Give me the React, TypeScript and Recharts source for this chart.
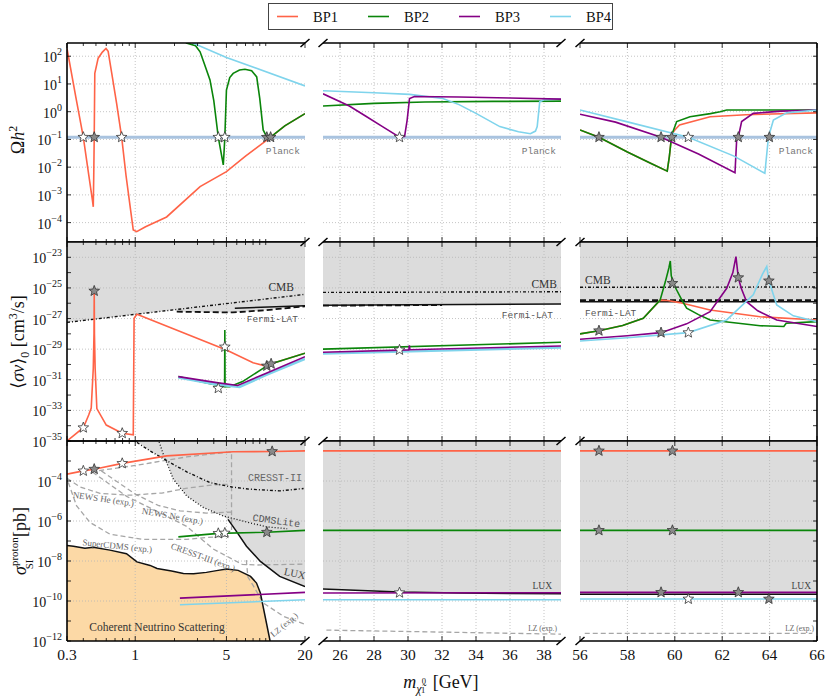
import React from 'react';
import { ComposedChart, Line, Area, Scatter, XAxis, YAxis, ReferenceLine } from 'recharts';

type P = [number, number];
type S = [number, number, number]; // mass, value, filled(1)/open(0)

const SERIF = "'Liberation Serif', 'DejaVu Serif', serif";
const MONO = "'Liberation Mono', 'DejaVu Sans Mono', monospace";

// ---------- legend / series ----------
const seriesNames = ['BP1', 'BP2', 'BP3', 'BP4'];
const seriesColors = ['#ff6347', '#0a850a', '#850085', '#7fd4ec'];
const [BP1C, BP2C, BP3C, BP4C] = seriesColors;

// ---------- ticks ----------
const c1Ticks = [0.3, 0.4, 0.5, 0.6, 0.7, 0.8, 0.9, 1, 2, 3, 4, 5, 6, 7, 8, 9, 10, 20];
const c1Major = [0.3, 1, 5, 20];
const c1Grid = [1, 5];
const c2Ticks = [26, 28, 30, 32, 34, 36, 38];
const c3Ticks = [56, 58, 60, 62, 64, 66];
const c3Grid = [58, 60, 62, 64];
const r1Exps = [-4, -3, -2, -1, 0, 1, 2];
const r2Exps = [-35, -34, -33, -32, -31, -30, -29, -28, -27, -26, -25, -24, -23];
const r2Labels = [-35, -33, -31, -29, -27, -25, -23];
const r2Grid = [-33, -31, -29, -27, -25, -23];
const r3Exps = [-12, -11, -10, -9, -8, -7, -6, -5, -4, -3];
const r3Labels = [-12, -10, -8, -6, -4];
const r3Grid = [-10, -8, -6, -4];

// ---------- Row 1: relic density ----------
const planckC1: P[] = [[0.3, 0.12], [20, 0.12]];
const planckC2: P[] = [[25, 0.12], [39, 0.12]];
const planckC3: P[] = [[56, 0.12], [66, 0.12]];
const relicC1_BP1: P[] = [[0.3, 190], [0.35, 3.5], [0.4, 0.12], [0.44, 5.4e-3], [0.47, 6.3e-4], [0.477, 3.7e-4], [0.481, 5e-3], [0.485, 0.12], [0.49, 24], [0.52, 85], [0.56, 141], [0.597, 190], [0.62, 150], [0.66, 25], [0.72, 2], [0.787, 0.12], [0.85, 5e-3], [0.92, 3e-4], [0.966, 5.4e-5], [1.026, 4.7e-5], [1.2, 7.1e-5], [1.74, 1.6e-4], [3.14, 2.0e-3], [5, 6.9e-3], [7, 0.025], [10.2, 0.095], [14, 0.31], [20, 0.85]];
const relicC1_BP2: P[] = [[2.2, 700], [2.47, 300], [2.9, 240], [3.14, 145], [3.4, 50], [3.74, 14], [4.0, 2.5], [4.33, 0.12], [4.6, 0.025], [4.73, 0.012], [4.8, 0.04], [4.86, 0.12], [4.95, 1.5], [5.0, 6], [5.3, 17], [5.63, 24], [6.3, 32], [6.93, 34], [7.8, 30], [8.53, 18], [9.0, 3], [9.56, 0.22], [10.2, 0.12], [10.6, 0.11], [10.9, 0.12], [14, 0.31], [20, 0.85]];
const relicC1_BP4: P[] = [[2.4, 400], [5, 90], [20, 8.5]];
const relicC1_Stars: S[] = [[0.4, 0.12, 0], [0.485, 0.12, 1], [0.787, 0.12, 0], [4.33, 0.12, 0], [4.86, 0.12, 0], [10.2, 0.12, 1], [10.9, 0.12, 1]];

const relicC2_BP2: P[] = [[25, 1.6], [28, 2.0], [31, 2.24], [35, 2.35], [39, 2.4]];
const relicC2_BP3: P[] = [[25, 4.4], [26.55, 1.6], [27.5, 0.7], [28.5, 0.29], [29.5, 0.12], [29.8, 0.13], [29.95, 0.5], [30.09, 3.0], [30.38, 3.55], [33, 3.4], [36, 3.1], [39, 2.85]];
const relicC2_BP4: P[] = [[25, 5.7], [28, 4.8], [30.1, 4.2], [32.05, 3.0], [33, 1.8], [34, 0.87], [35.4, 0.29], [36.5, 0.19], [37.2, 0.16], [37.5, 0.2], [37.6, 0.29], [37.75, 2.3], [38, 2.7], [39, 2.85]];
const relicC2_Stars: S[] = [[29.5, 0.12, 0]];

const relicC3_BP1: P[] = [[56, 0.22], [56.8, 0.12], [58, 0.035], [59, 0.0135], [59.68, 7.2e-3], [59.77, 0.024], [59.87, 0.145], [60.0, 0.22], [60.2, 0.33], [61.49, 0.66], [63, 0.78], [66, 0.91]];
const relicC3_BP2: P[] = [[56, 0.22], [56.8, 0.12], [58, 0.035], [59, 0.0135], [59.68, 7.2e-3], [59.77, 0.024], [59.87, 0.145], [60.08, 0.44], [60.64, 0.66], [61.5, 0.85], [61.91, 1.0], [62.19, 1.15], [66, 1.15]];
const relicC3_BP3: P[] = [[56, 0.81], [57.5, 0.42], [59.42, 0.12], [61, 0.03], [62.54, 6.3e-3], [62.61, 0.095], [62.68, 0.12], [62.82, 0.44], [63.31, 0.87], [64.5, 1.05], [66, 1.15]];
const relicC3_BP4: P[] = [[56, 1.15], [58, 0.43], [60.57, 0.12], [62.5, 0.025], [63.8, 6.0e-3], [63.95, 0.12], [64.16, 0.5], [64.72, 0.91], [66, 1.15]];
const relicC3_Stars: S[] = [[56.8, 0.12, 1], [59.42, 0.12, 1], [59.87, 0.12, 1], [60.57, 0.12, 0], [62.68, 0.12, 1], [63.99, 0.12, 1]];

// ---------- Row 2: <sigma v>_0 ----------
const svC1_CMB: P[] = [[0.3, 5.6e-28], [20, 3.8e-26]];
const svC1_FermiDashed: P[] = [[2.08, 2.8e-27], [5.6, 2.5e-27], [10, 3.5e-27], [20, 6.3e-27]];
const svC1_FermiSolid: P[] = [[5.8, 4.7e-27], [20, 6.9e-27]];
const svC1_Excl: P[] = [[0.3, 5.6e-28], [2.07, 3.9e-27], [2.08, 2.8e-27], [5.6, 2.5e-27], [10, 3.5e-27], [20, 6.3e-27]];
const svC1_BP1: P[] = [[0.3, 1e-35], [0.4, 7.4e-35], [0.44, 5e-34], [0.46, 1.4e-33], [0.477, 5.6e-31], [0.483, 1e-28], [0.485, 6.3e-26], [0.487, 1e-28], [0.493, 5.6e-31], [0.508, 1.3e-33], [0.6, 1.1e-34], [0.795, 3.2e-35], [0.966, 2.5e-35], [0.98, 1.05e-27], [1.03, 1.9e-27], [2, 2e-28], [5, 8.9e-30], [8, 1.3e-30], [9.56, 8.7e-31], [10.2, 8e-31], [11.2, 1.17e-30], [20, 5.4e-30]];
const svC1_BP2: P[] = [[2.14, 1.6e-31], [3, 8.3e-32], [4.33, 4.2e-32], [4.84, 3.5e-32], [4.86, 1.8e-28], [4.88, 3.5e-32], [5.3, 3.5e-32], [6.64, 7.6e-32], [10.2, 8e-31], [11.2, 1.17e-30], [20, 5.4e-30]];
const svC1_BP3: P[] = [[2.14, 1.6e-31], [4.2, 6.5e-32], [6.1, 4.2e-32], [10, 2.6e-31], [20, 3.2e-30]];
const svC1_BP4: P[] = [[2.14, 1.4e-31], [4.2, 5e-32], [6.3, 3.4e-32], [10, 2e-31], [20, 2.3e-30]];
const svC1_Stars: S[] = [[0.4, 7.4e-35, 0], [0.485, 6.3e-26, 1], [0.795, 3.2e-35, 0], [4.33, 2.8e-32, 0], [4.86, 1.4e-29, 0], [10.2, 8e-31, 1], [11.0, 1.1e-30, 1]];

const svC2_CMB: P[] = [[25, 5.1e-26], [39, 5.6e-26]];
const svC2_FermiDashed: P[] = [[25, 6.9e-27], [32, 7.6e-27]];
const svC2_FermiSolid: P[] = [[25, 7.4e-27], [39, 8.9e-27]];
const svC2_Excl: P[] = [[25, 7.2e-27], [39, 8.9e-27]];
const svC2_BP2: P[] = [[25, 1.0e-29], [39, 2.8e-29]];
const svC2_BP3: P[] = [[25, 6.3e-30], [30.05, 9e-30], [30.08, 1.8e-29], [30.11, 9.2e-30], [39, 1.6e-29]];
const svC2_BP4: P[] = [[25, 5e-30], [39, 1.26e-29]];
const svC2_Stars: S[] = [[29.5, 8.9e-30, 0]];

const svC3_CMB: P[] = [[56, 1.1e-25], [66, 1.15e-25]];
const svC3_FermiDashed: P[] = [[56, 1.6e-26], [66, 1.6e-26]];
const svC3_FermiSolid: P[] = [[56, 1.26e-26], [66, 1.26e-26]];
const svC3_Excl: P[] = [[56, 1.26e-26], [66, 1.26e-26]];
const svC3_BP1: P[] = [[56, 1.0e-28], [56.8, 1.6e-28], [57.8, 3.5e-28], [58.67, 1.05e-27], [59.38, 1.6e-26], [59.7, 1.5e-26], [60.2, 1.1e-26], [61.49, 3.6e-27], [63.6, 1.3e-27], [66, 8.1e-28]];
const svC3_BP2: P[] = [[56, 1.0e-28], [56.8, 1.6e-28], [57.8, 3.5e-28], [58.67, 1.05e-27], [59.38, 1.6e-26], [59.6, 2.5e-25], [59.75, 2.0e-24], [59.81, 5.8e-24], [59.85, 6.3e-25], [59.95, 1.8e-25], [60.1, 6.3e-26], [60.3, 1.6e-26], [60.5, 4.7e-27], [61, 1.8e-27], [61.49, 8.1e-28], [63.6, 3.4e-28], [64.6, 3.0e-28], [64.7, 4.9e-28], [66, 6.3e-28]];
const svC3_BP3: P[] = [[56, 4.4e-29], [58, 7.5e-29], [59.42, 1.2e-28], [60.5, 4.5e-28], [61.49, 2.8e-27], [62.19, 9.5e-26], [62.45, 1e-24], [62.58, 1.1e-23], [62.68, 4.7e-25], [62.8, 1e-25], [63.03, 1.26e-26], [63.5, 3.2e-27], [64.3, 8.1e-28], [66, 3.0e-28]];
const svC3_BP4: P[] = [[56, 3.4e-29], [58, 5.6e-29], [60.57, 1.2e-28], [62.19, 8.1e-28], [63.31, 3.5e-26], [63.7, 8e-25], [63.88, 2.5e-24], [63.97, 2.9e-25], [64.3, 7.8e-27], [65, 1.5e-27], [66, 6.3e-28]];
const svC3_Stars: S[] = [[56.8, 1.6e-28, 1], [59.42, 1.2e-28, 1], [59.9, 2.0e-25, 1], [60.57, 1.2e-28, 0], [62.68, 4.7e-25, 1], [63.97, 2.9e-25, 1]];

// ---------- Row 3: sigma_SI proton ----------
const siC1_Excl: P[] = [[1.03, 1e-2], [1.3, 3.2e-3], [1.7, 1.15e-3], [1.96, 1.23e-4], [2.48, 1.8e-5], [3.33, 4.7e-6], [4.71, 1.8e-6], [5.14, 1.2e-6], [5.82, 3.8e-7], [7.12, 5.5e-8], [9.1, 9.5e-9], [12.8, 1.7e-9], [20, 5.2e-10]];
const siC1_CRESST2: P[] = [[1.03, 8.5e-3], [1.3, 3.2e-3], [1.84, 8.5e-4], [2.5, 2.8e-4], [3.74, 8.3e-5], [5.5, 5e-5], [7.55, 3.9e-5], [12.8, 3.2e-5], [19.5, 4.2e-5]];
const siC1_CDMSLite: P[] = [[1.5, 1.26e-2], [1.64, 2.2e-3], [1.96, 1.23e-4], [2.48, 1.8e-5], [3.33, 4.7e-6], [4.71, 1.8e-6], [7.55, 8.1e-7], [10.2, 5.1e-7], [14.6, 4.1e-7]];
const siC1_LUX: P[] = [[5.14, 1.2e-6], [5.82, 3.8e-7], [7.12, 5.5e-8], [9.1, 9.5e-9], [12.8, 1.7e-9], [20, 5.2e-10]];
const siC1_Floor: P[] = [[0.3, 5.9e-8], [0.336, 5.5e-8], [0.412, 4.3e-8], [0.477, 4.8e-8], [0.64, 3.5e-8], [0.857, 2.3e-8], [1.03, 9e-9], [1.3, 6e-9], [1.47, 4.2e-9], [1.9, 3.2e-9], [2.34, 2.4e-9], [2.8, 2.3e-9], [3.51, 2.7e-9], [4.2, 3.3e-9], [5, 4.0e-9], [6.15, 3.4e-9], [7.65, 1.7e-9], [8.5, 7.9e-10], [9.1, 2.5e-10], [10.8, 1e-12]];
const siC1_ProjTop: P[] = [[0.46, 2.9e-4], [1, 6e-4], [2.48, 1.6e-3], [3.5, 2.1e-3], [5.47, 2.8e-3], [5.47, 3.5e-7]];
const siC1_NEWSHe: P[] = [[0.3, 1.35e-4], [0.377, 5.1e-5], [0.537, 2.4e-5], [0.91, 1.95e-5], [1.6, 2.5e-5], [2.5, 4.4e-5], [3.9, 6.3e-5], [5.47, 7e-5]];
const siC1_NEWSNe: P[] = [[0.55, 3.2e-4], [0.75, 8e-5], [1.0, 2.2e-5], [1.5, 6e-6], [2.2, 3.2e-6], [3.5, 2.5e-6], [5.47, 2.8e-6]];
const siC1_SuperCDMS: P[] = [[0.307, 8.5e-5], [0.355, 5.8e-6], [0.45, 8.5e-7], [0.64, 2.2e-7], [1.15, 1.2e-7], [2.48, 1.2e-7], [3.5, 1.5e-7], [5.47, 1.8e-7]];
const siC1_CRESST3: P[] = [[0.47, 2.8e-4], [0.86, 1.7e-5], [1.56, 2.5e-6], [2.48, 5.4e-7], [3.95, 4e-8], [6.6, 6.8e-9], [8.5, 6.3e-9], [20, 7e-9]];
const siC1_LZ: P[] = [[7.1, 1.1e-8], [7.3, 1.6e-9], [8.0, 6e-10], [9.56, 8.1e-11], [13.7, 1.7e-11], [20, 6.8e-12]];
const siC1_BP1: P[] = [[0.3, 2.2e-4], [0.4, 3.2e-4], [0.485, 3.9e-4], [0.795, 7.6e-4], [1.74, 1.8e-3], [5.63, 2.9e-3], [11.4, 3.0e-3], [20, 3.2e-3]];
const siC1_BP2: P[] = [[2.14, 1.6e-7], [4.33, 2.4e-7], [10.2, 2.75e-7], [20, 3.4e-7]];
const siC1_BP3: P[] = [[2.2, 1.4e-10], [20, 2.7e-10]];
const siC1_BP4: P[] = [[2.2, 6.5e-11], [20, 1.15e-10]];
const siC1_Stars: S[] = [[0.4, 3.2e-4, 0], [0.485, 3.9e-4, 1], [0.795, 7.6e-4, 0], [11.2, 3.0e-3, 1], [4.33, 2.4e-7, 0], [4.86, 2.5e-7, 0], [10.2, 2.75e-7, 1]];

const siC2_LUX: P[] = [[25, 4e-10], [29.5, 2.8e-10], [33, 2.5e-10], [39, 2.3e-10]];
const siC2_LZ: P[] = [[25.2, 3.5e-12], [39, 2.2e-12]];
const siC2_BP1: P[] = [[25, 3.2e-3], [39, 3.2e-3]];
const siC2_BP2: P[] = [[25, 3.4e-7], [39, 3.4e-7]];
const siC2_BP3: P[] = [[25, 2.5e-10], [39, 2.6e-10]];
const siC2_BP4: P[] = [[25, 1.15e-10], [39, 1.15e-10]];
const siC2_Stars: S[] = [[29.5, 2.6e-10, 0]];

const siC3_LUX: P[] = [[56, 2.2e-10], [66, 2.2e-10]];
const siC3_LZ: P[] = [[56.2, 2.4e-12], [65.8, 2.4e-12]];
const siC3_BP1: P[] = [[56, 3.2e-3], [66, 3.2e-3]];
const siC3_BP2: P[] = [[56, 3.4e-7], [66, 3.4e-7]];
const siC3_BP3: P[] = [[56, 2.7e-10], [66, 2.7e-10]];
const siC3_BP4: P[] = [[56, 1.26e-10], [66, 1.26e-10]];
const siC3_Stars: S[] = [[56.8, 3.2e-3, 1], [59.9, 3.2e-3, 1], [56.8, 3.4e-7, 1], [59.9, 3.4e-7, 1], [59.42, 2.7e-10, 1], [62.68, 2.7e-10, 1], [60.57, 1.26e-10, 0], [63.97, 1.26e-10, 1]];

// ---------- styles ----------
const GRAY_FILL = '#dcdcdc';
const FLOOR_FILL = '#fcd9a6';
const PROJ = '#a6a6a6';
type LineDef = { data: P[]; color: string; width?: number; dash?: string };
type FillDef = { data: P[]; color: string; base: 'dataMin' | 'dataMax' };
type PanelDef = { row: number; col: number; fills: FillDef[]; lines: LineDef[]; stars: S[] };

const planck = (d: P[]): LineDef => ({ data: d, color: '#a9c3df', width: 3 });
const cmb = (d: P[]): LineDef => ({ data: d, color: '#111', width: 1.4, dash: '3 2 1 2' });
const fermiD = (d: P[]): LineDef => ({ data: d, color: '#111', width: 1.8, dash: '6 3' });
const solid = (d: P[]): LineDef => ({ data: d, color: '#111', width: 1.5 });
const proj = (d: P[]): LineDef => ({ data: d, color: PROJ, width: 1.3, dash: '5 3' });
const ser = (d: P[], color: string, width = 1.6): LineDef => ({ data: d, color, width });

const PANELS: PanelDef[] = [
  { row: 0, col: 0, fills: [], lines: [planck(planckC1), ser(relicC1_BP1, BP1C), ser(relicC1_BP2, BP2C), ser(relicC1_BP4, BP4C)], stars: relicC1_Stars },
  { row: 0, col: 1, fills: [], lines: [planck(planckC2), ser(relicC2_BP2, BP2C), ser(relicC2_BP4, BP4C), ser(relicC2_BP3, BP3C)], stars: relicC2_Stars },
  { row: 0, col: 2, fills: [], lines: [planck(planckC3), ser(relicC3_BP1, BP1C), ser(relicC3_BP2, BP2C), ser(relicC3_BP3, BP3C), ser(relicC3_BP4, BP4C)], stars: relicC3_Stars },
  { row: 1, col: 0, fills: [{ data: svC1_Excl, color: GRAY_FILL, base: 'dataMax' }], lines: [cmb(svC1_CMB), fermiD(svC1_FermiDashed), solid(svC1_FermiSolid), ser(svC1_BP1, BP1C), ser(svC1_BP2, BP2C), ser(svC1_BP4, BP4C, 2.6), ser(svC1_BP3, BP3C)], stars: svC1_Stars },
  { row: 1, col: 1, fills: [{ data: svC2_Excl, color: GRAY_FILL, base: 'dataMax' }], lines: [cmb(svC2_CMB), fermiD(svC2_FermiDashed), solid(svC2_FermiSolid), ser(svC2_BP2, BP2C), ser(svC2_BP4, BP4C, 2.2), ser(svC2_BP3, BP3C)], stars: svC2_Stars },
  { row: 1, col: 2, fills: [{ data: svC3_Excl, color: GRAY_FILL, base: 'dataMax' }], lines: [cmb(svC3_CMB), fermiD(svC3_FermiDashed), solid(svC3_FermiSolid), ser(svC3_BP1, BP1C), ser(svC3_BP2, BP2C), ser(svC3_BP3, BP3C), ser(svC3_BP4, BP4C)], stars: svC3_Stars },
  {
    row: 2, col: 0,
    fills: [{ data: siC1_Excl, color: GRAY_FILL, base: 'dataMax' }, { data: siC1_Floor, color: FLOOR_FILL, base: 'dataMin' }],
    lines: [proj(siC1_ProjTop), proj(siC1_NEWSHe), proj(siC1_NEWSNe), proj(siC1_SuperCDMS), proj(siC1_CRESST3), proj(siC1_LZ), cmb(siC1_CRESST2), { data: siC1_CDMSLite, color: '#111', width: 1.3, dash: '1 2' }, solid(siC1_LUX), solid(siC1_Floor), ser(siC1_BP1, BP1C), ser(siC1_BP2, BP2C), ser(siC1_BP3, BP3C), ser(siC1_BP4, BP4C)],
    stars: siC1_Stars,
  },
  { row: 2, col: 1, fills: [{ data: siC2_LUX, color: GRAY_FILL, base: 'dataMax' }], lines: [proj(siC2_LZ), solid(siC2_LUX), ser(siC2_BP1, BP1C), ser(siC2_BP2, BP2C), ser(siC2_BP3, BP3C), ser(siC2_BP4, BP4C)], stars: siC2_Stars },
  { row: 2, col: 2, fills: [{ data: siC3_LUX, color: GRAY_FILL, base: 'dataMax' }], lines: [proj(siC3_LZ), solid(siC3_LUX), ser(siC3_BP1, BP1C), ser(siC3_BP2, BP2C), ser(siC3_BP3, BP3C), ser(siC3_BP4, BP4C)], stars: siC3_Stars },
];

const fmtX = (v: number) => String(v);
const COLS = [
  { L: 67, W: 238, domain: [0.3, 20], scale: 'log' as const, ticks: c1Ticks, majors: c1Major, grid: c1Grid },
  { L: 323, W: 238, domain: [25, 39], scale: 'linear' as const, ticks: c2Ticks, majors: c2Ticks, grid: c2Ticks },
  { L: 580, W: 237, domain: [56, 66], scale: 'linear' as const, ticks: c3Ticks, majors: c3Ticks, grid: c3Grid },
];
const ROWS = [
  { T: 43, H: 199, domain: [2e-5, 300], exps: r1Exps, labels: r1Exps, grid: r1Exps },
  { T: 242, H: 199, domain: [1e-35, 1e-22], exps: r2Exps, labels: r2Labels, grid: r2Grid },
  { T: 441, H: 200, domain: [1e-12, 1e-2], exps: r3Exps, labels: r3Labels, grid: r3Grid },
];

const toPts = (d: P[]) => d.map(([x, y]) => ({ x, y }));

const xTick = (majors: number[], showLabel: boolean, top: boolean) => (p: any) => {
  const v = p.payload.value;
  const major = majors.some((m) => Math.abs(m - v) < 1e-9);
  const len = major ? 5 : 3;
  const dir = top ? 1 : -1;
  return (
    <g>
      <line x1={p.x} x2={p.x} y1={p.y} y2={p.y + dir * len} stroke="#000" strokeWidth={0.8} />
      {showLabel && major && (
        <text x={p.x} y={p.y + 19} textAnchor="middle" fontFamily={SERIF} fontSize={15.5} fill="#111">{fmtX(v)}</text>
      )}
    </g>
  );
};

const yTick = (labels: number[], showLabel: boolean, right: boolean) => (p: any) => {
  const v = p.payload.value;
  const e = Math.round(Math.log10(v));
  const dir = right ? -1 : 1;
  return (
    <g>
      <line x1={p.x} x2={p.x + dir * 4} y1={p.y} y2={p.y} stroke="#000" strokeWidth={0.8} />
      {showLabel && labels.includes(e) && (
        <text x={p.x - 5} y={p.y + 6} textAnchor="end" fontFamily={SERIF} fontSize={14} fill="#111">
          10<tspan dy={-7} fontSize={10}>{e < 0 ? '\u2212' + -e : String(e)}</tspan>
        </text>
      )}
    </g>
  );
};

const StarShape = (props: any) => {
  const { cx, cy, payload } = props;
  if (cx == null || cy == null) return <g />;
  const R = 5.6;
  const r = 2.4;
  const pts: string[] = [];
  for (let i = 0; i < 10; i++) {
    const rad = i % 2 === 0 ? R : r;
    const a = -Math.PI / 2 + (i * Math.PI) / 5;
    pts.push(`${cx + rad * Math.cos(a)},${cy + rad * Math.sin(a)}`);
  }
  return <polygon points={pts.join(' ')} fill={payload.f ? '#8a8a8a' : '#ffffff'} stroke="#333" strokeWidth={0.8} />;
};

function Panel({ d }: { d: PanelDef }) {
  const c = COLS[d.col];
  const r = ROWS[d.row];
  const M = 14;
  const wl = d.col === 0 ? 52 : 0;
  const wr = d.col === 2 ? 1 : 0;
  const ht = 1;
  const hb = d.row === 2 ? 30 : 1;
  const cw = c.W + 2 * M + wl + wr;
  const ch = r.H + 2 * M + ht + hb;
  const yTicks = r.exps.map((e) => Math.pow(10, e));
  const axisLine = { stroke: '#000', strokeWidth: 1.6 };
  return (
    <div style={{ position: 'absolute', left: c.L - M - wl, top: r.T - M - ht }}>
      <ComposedChart width={cw} height={ch} margin={{ top: M, right: M, bottom: M, left: M }}>
        <XAxis dataKey="x" type="number" scale={c.scale} domain={c.domain} allowDataOverflow ticks={c.ticks} interval={0}
          tickSize={0} tickMargin={0} tickLine={false} axisLine={axisLine} height={hb} tick={xTick(c.majors, d.row === 2, false)} />
        <XAxis xAxisId="top" orientation="top" dataKey="x" type="number" scale={c.scale} domain={c.domain} allowDataOverflow ticks={c.ticks} interval={0}
          tickSize={0} tickMargin={0} tickLine={false} axisLine={axisLine} height={ht} tick={xTick(c.majors, false, true)} />
        <YAxis dataKey="y" type="number" scale="log" domain={r.domain} allowDataOverflow ticks={yTicks} interval={0}
          tickSize={0} tickMargin={0} tickLine={false} axisLine={axisLine} width={d.col === 0 ? wl : 60} hide={d.col !== 0}
          tick={yTick(r.labels, true, false)} />
        {d.col === 2 && (
          <YAxis yAxisId="right" orientation="right" dataKey="y" type="number" scale="log" domain={r.domain} allowDataOverflow ticks={yTicks} interval={0}
            tickSize={0} tickMargin={0} tickLine={false} axisLine={axisLine} width={wr} tick={yTick([], false, true)} />
        )}
        {d.fills.map((f, i) => (
          <Area key={'f' + i} data={toPts(f.data)} dataKey="y" baseValue={f.base} type="linear" fill={f.color} fillOpacity={1}
            stroke="none" isAnimationActive={false} dot={false} activeDot={false} />
        ))}
        {c.grid.map((g) => (
          <ReferenceLine key={'gx' + g} x={g} stroke="#b5b5b5" strokeWidth={0.8} strokeDasharray="1 2" />
        ))}
        {r.grid.map((e) => (
          <ReferenceLine key={'gy' + e} y={Math.pow(10, e)} stroke="#b5b5b5" strokeWidth={0.8} strokeDasharray="1 2" />
        ))}
        {d.lines.map((l, i) => (
          <Line key={'l' + i} data={toPts(l.data)} dataKey="y" type="linear" stroke={l.color} strokeWidth={l.width ?? 1.6}
            strokeDasharray={l.dash} dot={false} activeDot={false} isAnimationActive={false} />
        ))}
        <Scatter data={d.stars.map(([x, y, f]) => ({ x, y, f }))} shape={StarShape} isAnimationActive={false} />
      </ComposedChart>
    </div>
  );
}

type Ann = { t: string; x: number; y: number; a?: 'start' | 'middle' | 'end'; f?: string; s?: number; c?: string; rot?: number };
const annotations: Ann[] = [
  { t: 'Planck', x: 300, y: 154, a: 'end', f: MONO, s: 9.5, c: '#777' },
  { t: 'Planck', x: 556, y: 154, a: 'end', f: MONO, s: 9.5, c: '#777' },
  { t: 'Planck', x: 813, y: 154, a: 'end', f: MONO, s: 9.5, c: '#777' },
  { t: 'CMB', x: 294, y: 291, a: 'end', s: 11.5, c: '#333' },
  { t: 'CMB', x: 557, y: 288, a: 'end', s: 11.5, c: '#333' },
  { t: 'CMB', x: 585, y: 284, a: 'start', s: 11.5, c: '#333' },
  { t: 'Fermi-LAT', x: 298, y: 322, a: 'end', f: MONO, s: 9.5, c: '#555' },
  { t: 'Fermi-LAT', x: 553, y: 318, a: 'end', f: MONO, s: 9.5, c: '#555' },
  { t: 'Fermi-LAT', x: 585, y: 316, a: 'start', f: MONO, s: 9.5, c: '#555' },
  { t: 'CRESST-II', x: 302, y: 481, a: 'end', f: MONO, s: 10, c: '#666' },
  { t: 'CDMSLite', x: 276, y: 524, a: 'middle', f: MONO, s: 10, c: '#555', rot: 8 },
  { t: 'LUX', x: 294, y: 577, a: 'middle', s: 10.5, c: '#444', rot: 12 },
  { t: 'NEWS He (exp.)', x: 103, y: 502, a: 'middle', s: 9, c: '#666', rot: 8 },
  { t: 'NEWS Ne (exp.)', x: 172, y: 519, a: 'middle', s: 9, c: '#666', rot: 10 },
  { t: 'SuperCDMS (exp.)', x: 117, y: 549, a: 'middle', s: 9, c: '#666', rot: 6 },
  { t: 'CRESST-III (exp.)', x: 202, y: 560, a: 'middle', s: 9, c: '#666', rot: 20 },
  { t: 'LZ (exp.)', x: 286, y: 627, a: 'middle', s: 8.5, c: '#666', rot: -40 },
  { t: 'Coherent Neutrino Scattering', x: 157, y: 631, a: 'middle', s: 11.5, c: '#333' },
  { t: 'LUX', x: 552, y: 589, a: 'end', s: 9.5, c: '#444' },
  { t: 'LZ (exp.)', x: 557, y: 631, a: 'end', s: 7.5, c: '#666' },
  { t: 'LUX', x: 811, y: 589, a: 'end', s: 9.5, c: '#444' },
  { t: 'LZ (exp.)', x: 814, y: 631, a: 'end', s: 7.5, c: '#666' },
];

const breakXs = [305, 323, 561, 580];
const rowEdges = [43, 242, 441, 641];
const legendX = [277, 368, 459, 550];

function Overlay() {
  return (
    <svg width={830} height={698} style={{ position: 'absolute', left: 0, top: 0, pointerEvents: 'none' }}>
      {/* legend */}
      <rect x={268.5} y={3.5} width={344} height={26} fill="#fff" stroke="#444" strokeWidth={1} />
      {seriesNames.map((n, i) => (
        <g key={n}>
          <line x1={legendX[i]} x2={legendX[i] + 21} y1={16.5} y2={16.5} stroke={seriesColors[i]} strokeWidth={1.6} />
          <text x={legendX[i] + 36} y={21.5} fontFamily={SERIF} fontSize={14.5} fill="#111">{n}</text>
        </g>
      ))}
      {/* axis break marks */}
      {breakXs.map((bx) => rowEdges.map((ry) => (
        <line key={bx + '-' + ry} x1={bx - 4.5} y1={ry + 4} x2={bx + 4.5} y2={ry - 4} stroke="#000" strokeWidth={1.5} />
      )))}
      {/* annotations */}
      {annotations.map((a, i) => (
        <text key={i} x={a.x} y={a.y} textAnchor={a.a ?? 'start'} fontFamily={a.f ?? SERIF} fontSize={a.s ?? 10} fill={a.c ?? '#333'}
          transform={a.rot ? `rotate(${a.rot} ${a.x} ${a.y})` : undefined}>{a.t}</text>
      ))}
      {/* axis titles */}
      <text transform="translate(24,140) rotate(-90)" textAnchor="middle" fontFamily={SERIF} fontSize={18} fill="#111">
        Ω<tspan fontStyle="italic">h</tspan><tspan dy={-7} fontSize={12}>2</tspan>
      </text>
      <text transform="translate(24,342) rotate(-90)" textAnchor="middle" fontFamily={SERIF} fontSize={18} fill="#111">
        ⟨<tspan fontStyle="italic">σv</tspan>⟩<tspan dy={5} fontSize={12}>0</tspan><tspan dy={-5}> [cm</tspan><tspan dy={-7} fontSize={12}>3</tspan><tspan dy={7}>/s]</tspan>
      </text>
      <text transform="translate(26,541) rotate(-90)" textAnchor="middle" fontFamily={SERIF} fontSize={18} fill="#111">
        <tspan fontStyle="italic">σ</tspan><tspan dy={-8} fontSize={11}>proton</tspan><tspan dx={-32} dy={15} fontSize={11}>SI</tspan><tspan dx={18} dy={-7}> [pb]</tspan>
      </text>
      <text x={441} y={688} textAnchor="middle" fontFamily={SERIF} fontSize={18} fill="#111">
        <tspan fontStyle="italic">m</tspan><tspan dy={5} fontSize={12} fontStyle="italic">χ̃</tspan><tspan dy={-9} fontSize={8.5}>0</tspan><tspan dx={-5} dy={9} fontSize={8.5}>1</tspan><tspan dx={3} dy={-5}> [GeV]</tspan>
      </text>
    </svg>
  );
}

export default function App() {
  return (
    <div style={{ position: 'absolute', left: 0, top: 0, width: 830, height: 698, background: '#fff', fontFamily: SERIF }}>
      {PANELS.map((p, i) => (
        <Panel key={i} d={p} />
      ))}
      <Overlay />
    </div>
  );
}
